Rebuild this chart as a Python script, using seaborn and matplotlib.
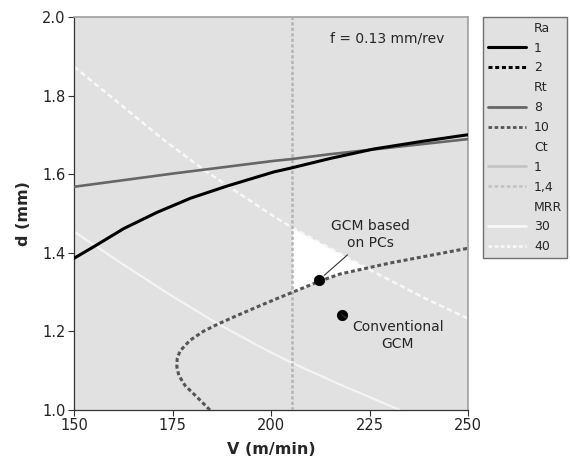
import numpy as np
import matplotlib
matplotlib.use("Agg")
import matplotlib.pyplot as plt
from matplotlib.lines import Line2D
import seaborn as sns

# ---- data ----
ra1_V = [150, 155.1, 162.7, 171.1, 179.6, 188.9, 200.8, 204.8, 215, 226, 238, 249.7, 250]
ra1_d = [1.386, 1.416, 1.462, 1.503, 1.539, 1.570, 1.606, 1.615, 1.640, 1.664, 1.683, 1.700, 1.700]

rt8_V = [150, 175.4, 200.8, 204.8, 215, 226, 249.7, 250]
rt8_d = [1.568, 1.602, 1.634, 1.638, 1.651, 1.663, 1.689, 1.689]

rt10_V = [184.5, 181.1, 178.2, 176.6, 176.1, 176.2, 176.9, 179.4, 182.8, 186.6, 191.3, 196.4,
          201.4, 205.3, 212.4, 217.5, 230.2, 249.7, 250]
rt10_d = [1.0, 1.034, 1.062, 1.088, 1.110, 1.131, 1.150, 1.177, 1.200, 1.219, 1.240, 1.262,
          1.283, 1.299, 1.328, 1.346, 1.374, 1.411, 1.411]

ct14_V = [205.4, 205.4]
ct14_d = [1.0, 2.0]

mrr30_V = [150, 162.7, 174.4, 186.2, 197.2, 205.3, 217.5, 232.7]
mrr30_d = [1.454, 1.369, 1.293, 1.221, 1.161, 1.120, 1.065, 1.0]

mrr40_V = [150, 172.8, 183, 188.6, 200.8, 205.7, 226, 239.5, 250]
mrr40_d = [1.874, 1.687, 1.611, 1.573, 1.492, 1.462, 1.352, 1.282, 1.233]

gcm_pc = (212.2, 1.331)
gcm_conv = (218.0, 1.242)

x_ticks = [150, 175, 200, 225, 250]
y_ticks = [1.0, 1.2, 1.4, 1.6, 1.8, 2.0]

# ---- style ----
sns.set_theme(style="white")
plt.rcParams['font.family'] = ['DejaVu Sans']
BG = "#e1e1e1"

fig = plt.figure(figsize=(5.70, 4.67), dpi=100)
ax = fig.add_axes([74/570, 1 - 410/467, (468-74)/570, (410-17)/467])
ax.set_facecolor(BG)
ax.set_xlim(150, 250)
ax.set_ylim(1.0, 2.0)

# feasible (white) region: right of Ct=1.4, between Rt=10 (upper branch) and MRR=40
i_min = int(np.argmin(rt10_V))
up_V = np.array(rt10_V[i_min:])
up_d = np.array(rt10_d[i_min:])
vg = np.linspace(ct14_V[0], 250, 400)
upper = np.interp(vg, mrr40_V, mrr40_d)
lower = np.interp(vg, up_V, up_d)
ax.fill_between(vg, lower, upper, where=upper > lower, color="white", lw=0, zorder=1)

# contour lines
sns.lineplot(x=mrr30_V, y=mrr30_d, ax=ax, color="#f4f4f4", lw=1.6, sort=False, estimator=None, zorder=2)
sns.lineplot(x=mrr40_V, y=mrr40_d, ax=ax, color="#f8f8f8", lw=1.8, sort=False, estimator=None,
             zorder=2).lines[-1].set_dashes((2.2, 1.3))
l = sns.lineplot(x=ct14_V, y=ct14_d, ax=ax, color="#b4b4b4", lw=1.8, sort=False, estimator=None, zorder=3).lines[-1]
l.set_dashes((1.3, 0.9))
sns.lineplot(x=rt8_V, y=rt8_d, ax=ax, color="#666666", lw=1.9, sort=False, estimator=None, zorder=4)
l = sns.lineplot(x=rt10_V, y=rt10_d, ax=ax, color="#555555", lw=2.2, sort=False, estimator=None, zorder=4).lines[-1]
l.set_dashes((1.3, 0.9))
sns.lineplot(x=ra1_V, y=ra1_d, ax=ax, color="black", lw=2.2, sort=False, estimator=None, zorder=5)

# points
sns.scatterplot(x=[gcm_pc[0], gcm_conv[0]], y=[gcm_pc[1], gcm_conv[1]], ax=ax,
                color="black", s=55, edgecolor="black", zorder=7)

ax.annotate("GCM based\non PCs", xy=gcm_pc, xytext=(225.3, 1.447), ha="center", va="center",
            fontsize=10, linespacing=1.25,
            arrowprops=dict(arrowstyle="-", color="#333333", lw=0.8, shrinkA=2, shrinkB=5,
                            relpos=(0.28, 0.0)), zorder=8)
ax.annotate("Conventional\nGCM", xy=gcm_conv, xytext=(232.2, 1.19), ha="center", va="center",
            fontsize=10, linespacing=1.25,
            arrowprops=dict(arrowstyle="-", color="#333333", lw=0.8, shrinkA=2, shrinkB=5,
                            relpos=(0.07, 0.8)), zorder=8)
ax.text(229.5, 1.946, "f = 0.13 mm/rev", ha="center", va="center", fontsize=10)

# axes cosmetics
ax.set_xticks(x_ticks)
ax.set_yticks(y_ticks)
ax.set_xticklabels([str(v) for v in x_ticks])
ax.set_yticklabels([f"{v:.1f}" for v in y_ticks])
ax.tick_params(axis="both", direction="out", length=4, width=0.8, color="#333333",
               labelsize=10.5, labelcolor="#222222", pad=2, bottom=True, left=True)
for s in ["left", "bottom"]:
    ax.spines[s].set_color("#333333")
    ax.spines[s].set_linewidth(0.9)
for s in ["top", "right"]:
    ax.spines[s].set_color("#a0a0a0")
    ax.spines[s].set_linewidth(1.2)
ax.set_xlabel("V (m/min)", fontsize=11.5, fontweight="bold", labelpad=6)
ax.set_ylabel("d (mm)", fontsize=11.5, fontweight="bold", labelpad=8)

# legend
blank = Line2D([], [], color="none")
handles = [
    blank, Line2D([], [], color="black", lw=2.2),
    Line2D([], [], color="black", lw=2.2, dashes=(1.3, 0.9)),
    blank, Line2D([], [], color="#666666", lw=2.0),
    Line2D([], [], color="#555555", lw=2.0, dashes=(1.3, 0.9)),
    blank, Line2D([], [], color="#c4c4c4", lw=2.0),
    Line2D([], [], color="#c4c4c4", lw=2.0, dashes=(1.3, 0.9)),
    blank, Line2D([], [], color="#f8f8f8", lw=2.0),
    Line2D([], [], color="#f8f8f8", lw=2.0, dashes=(1.3, 0.9)),
]
labels = ["Ra", "1", "2", "Rt", "8", "10", "Ct", "1", "1,4", "MRR", "30", "40"]
leg = fig.legend(handles, labels, loc="upper left", bbox_to_anchor=(482.7/570, 1 - 16.7/467),
                 borderaxespad=0, fontsize=9, handlelength=3.04, handletextpad=0.66,
                 labelspacing=0.55, borderpad=0.4, fancybox=False, framealpha=1,
                 facecolor=BG, edgecolor="#707070")
leg.get_frame().set_linewidth(1.0)

fig.savefig("out.png", dpi=100)
